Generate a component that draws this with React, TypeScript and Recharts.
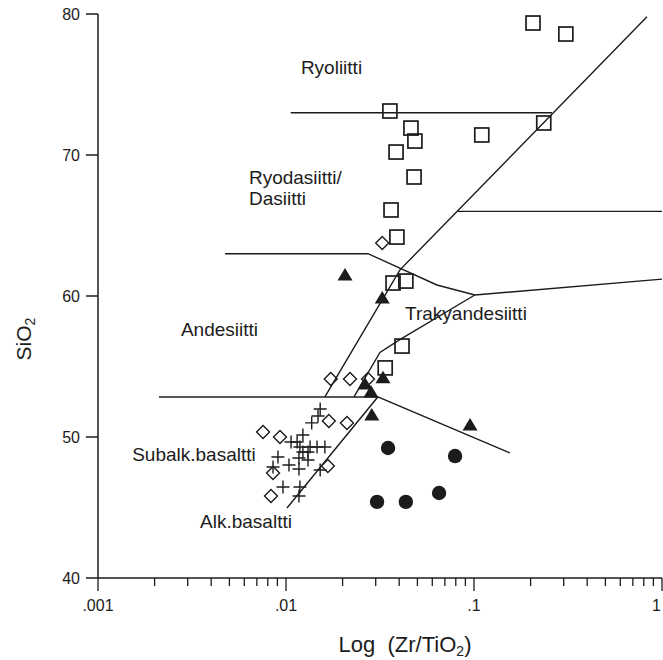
import { ScatterChart, Scatter, XAxis, YAxis } from "recharts";

const INK = "#1c1c1c";
const FONT = "'Liberation Sans', Arial, sans-serif";

// log axis ticks (minor + major)
const X_TICKS = [
  0.001, 0.002, 0.003, 0.004, 0.005, 0.006, 0.007, 0.008, 0.009,
  0.01, 0.02, 0.03, 0.04, 0.05, 0.06, 0.07, 0.08, 0.09,
  0.1, 0.2, 0.3, 0.4, 0.5, 0.6, 0.7, 0.8, 0.9, 1,
];
const X_MAJOR = [0.001, 0.01, 0.1, 1];
const X_MAJOR_LABELS = [".001", ".01", ".1", "1"];
const Y_TICKS = [40, 50, 60, 70, 80];

// field boundaries (Zr/TiO2, SiO2)
const rhyoliteLine = [{ x: 0.0106, y: 73 }, { x: 0.26, y: 73 }];
const steepLine = [{ x: 0.832, y: 79.8 }, { x: 0.0403, y: 61.84 }, { x: 0.0161, y: 52.84 }];
const andesiteTop = [
  { x: 0.00474, y: 63 },
  { x: 0.0273, y: 63 },
  { x: 0.0635, y: 60.78 },
  { x: 0.101, y: 60.07 },
  { x: 1, y: 61.2 },
];
const comenditeLine = [{ x: 0.0822, y: 66 }, { x: 1, y: 66 }];
const trachyLower = [
  { x: 0.101, y: 60.07 },
  { x: 0.0403, y: 56.9 },
  { x: 0.0316, y: 56.0 },
  { x: 0.023, y: 52.84 },
];
const basaltTop = [{ x: 0.00211, y: 52.84 }, { x: 0.0308, y: 52.84 }];
const alkLine = [{ x: 0.01012, y: 44.96 }, { x: 0.0308, y: 52.84 }, { x: 0.155, y: 48.87 }];

// samples
const squares = [
  { x: 0.206, y: 79.36 }, { x: 0.308, y: 78.58 }, { x: 0.0357, y: 73.12 },
  { x: 0.0462, y: 71.91 }, { x: 0.0485, y: 70.99 }, { x: 0.0385, y: 70.21 },
  { x: 0.11, y: 71.42 }, { x: 0.235, y: 72.27 }, { x: 0.048, y: 68.44 },
  { x: 0.0362, y: 66.1 }, { x: 0.0389, y: 64.18 }, { x: 0.0371, y: 60.92 },
  { x: 0.0434, y: 61.06 }, { x: 0.0414, y: 56.45 }, { x: 0.0337, y: 54.9 },
];
const triangles = [
  { x: 0.0206, y: 61.49 }, { x: 0.0325, y: 59.86 }, { x: 0.0263, y: 53.76 },
  { x: 0.0328, y: 54.2 }, { x: 0.0283, y: 53.2 }, { x: 0.0286, y: 51.56 },
  { x: 0.0953, y: 50.85 },
];
const circles = [
  { x: 0.0349, y: 49.22 }, { x: 0.0793, y: 48.65 }, { x: 0.0305, y: 45.4 },
  { x: 0.0434, y: 45.4 }, { x: 0.0652, y: 46.03 },
];
const diamonds = [
  { x: 0.0325, y: 63.76 }, { x: 0.0173, y: 54.11 }, { x: 0.0219, y: 54.11 },
  { x: 0.0273, y: 54.11 }, { x: 0.0169, y: 51.13 }, { x: 0.0211, y: 51.0 },
  { x: 0.00755, y: 50.35 }, { x: 0.00929, y: 50.0 }, { x: 0.00853, y: 47.45 },
  { x: 0.00832, y: 45.82 }, { x: 0.0167, y: 47.94 },
];
const crosses = [
  { x: 0.0152, y: 51.99 }, { x: 0.0148, y: 51.49 }, { x: 0.0137, y: 51.0 },
  { x: 0.0123, y: 50.14 }, { x: 0.01146, y: 49.65 }, { x: 0.01064, y: 49.65 },
  { x: 0.01186, y: 49.29 }, { x: 0.01343, y: 49.29 }, { x: 0.01462, y: 49.29 },
  { x: 0.0161, y: 49.29 }, { x: 0.0123, y: 48.94 }, { x: 0.01309, y: 48.94 },
  { x: 0.01172, y: 48.51 }, { x: 0.01309, y: 48.37 }, { x: 0.00906, y: 48.58 },
  { x: 0.01037, y: 48.01 }, { x: 0.01172, y: 47.73 }, { x: 0.00853, y: 47.87 },
  { x: 0.0152, y: 47.66 }, { x: 0.00964, y: 46.45 }, { x: 0.01186, y: 46.45 },
  { x: 0.01172, y: 45.82 },
];

// field names, anchored at their left baseline
const fieldLabels = [
  { x: 0.012, y: 75.74, text: "Ryoliitti" },
  { x: 0.00635, y: 67.94, text: "Ryodasiitti/" },
  { x: 0.00635, y: 66.45, text: "Dasiitti" },
  { x: 0.00276, y: 57.16, text: "Andesiitti" },
  { x: 0.043, y: 58.3, text: "Trakyandesiitti" },
  { x: 0.00152, y: 48.3, text: "Subalk.basaltti" },
  { x: 0.00349, y: 43.55, text: "Alk.basaltti" },
];

const boundaries = [rhyoliteLine, steepLine, andesiteTop, comenditeLine, trachyLower, basaltTop, alkLine];

const Empty = () => <g />;

const Square = ({ cx, cy }: any) => (
  <rect x={cx - 7} y={cy - 7} width={14} height={14} fill="none" stroke={INK} strokeWidth={1.7} />
);
const Diamond = ({ cx, cy }: any) => (
  <path d={`M${cx},${cy - 6.5}L${cx + 6.5},${cy}L${cx},${cy + 6.5}L${cx - 6.5},${cy}Z`} fill="none" stroke={INK} strokeWidth={1.4} />
);
const Triangle = ({ cx, cy }: any) => (
  <path d={`M${cx},${cy - 7}L${cx + 7.5},${cy + 5.5}L${cx - 7.5},${cy + 5.5}Z`} fill={INK} />
);
const Dot = ({ cx, cy }: any) => <circle cx={cx} cy={cy} r={7.2} fill={INK} />;
const Plus = ({ cx, cy }: any) => (
  <path d={`M${cx - 6.5},${cy}H${cx + 6.5}M${cx},${cy - 6.5}V${cy + 6.5}`} stroke={INK} strokeWidth={1.4} />
);
const FieldLabel = ({ cx, cy, payload }: any) => (
  <text x={cx} y={cy} fontSize={19} fontFamily={FONT} fill={INK}>
    {payload.text}
  </text>
);

function XTick(props: any) {
  const { x, y, payload } = props;
  const i = X_MAJOR.findIndex((v) => Math.abs(v - payload.value) < 1e-9);
  const major = i >= 0;
  const last = i === X_MAJOR.length - 1;
  return (
    <g>
      <line x1={x} x2={x} y1={y} y2={y + (major ? 13 : 8)} stroke={INK} strokeWidth={1.3} />
      {major && (
        <text x={last ? x - 1 : x} y={y + 33} textAnchor={last ? "end" : "middle"} fontSize={16} fontFamily={FONT} fill={INK}>
          {X_MAJOR_LABELS[i]}
        </text>
      )}
    </g>
  );
}

const XTitle = () => (
  <text x={405} y={652} textAnchor="middle" fontSize={22} fontFamily={FONT} fill={INK}>
    Log{"\u00a0\u00a0"}(Zr/TiO
    <tspan fontSize={14} dy={4}>2</tspan>
    <tspan dy={-4}>)</tspan>
  </text>
);

const YTitle = () => (
  <text x={31} y={339} transform="rotate(-90, 31, 339)" textAnchor="middle" fontSize={21} fontFamily={FONT} fill={INK}>
    SiO
    <tspan fontSize={14} dy={4}>2</tspan>
  </text>
);

export default function App() {
  return (
    <div style={{ position: "absolute", left: 0, top: 0, width: 663, height: 660, background: "#fff" }}>
      <ScatterChart width={663} height={660} margin={{ top: 14, right: 1, bottom: 0, left: 0 }}>
        <XAxis
          dataKey="x"
          type="number"
          scale="log"
          domain={[0.001, 1]}
          allowDataOverflow
          ticks={X_TICKS}
          interval={0}
          tick={<XTick />}
          tickLine={false}
          tickSize={0}
          tickMargin={0}
          height={82}
          axisLine={{ stroke: INK, strokeWidth: 1.5 }}
          label={{ content: XTitle }}
        />
        <YAxis
          dataKey="y"
          type="number"
          domain={[40, 80]}
          allowDataOverflow
          ticks={Y_TICKS}
          interval={0}
          width={98}
          tickSize={12}
          tickMargin={6}
          tick={{ fontSize: 16, fill: INK, fontFamily: FONT }}
          tickLine={{ stroke: INK, strokeWidth: 1.5 }}
          axisLine={{ stroke: INK, strokeWidth: 1.5 }}
          label={{ content: YTitle }}
        />
        {boundaries.map((seg, i) => (
          <Scatter
            key={`b${i}`}
            data={seg}
            line={{ stroke: INK, strokeWidth: 1.4 }}
            shape={Empty}
            isAnimationActive={false}
          />
        ))}
        <Scatter data={fieldLabels} shape={FieldLabel} isAnimationActive={false} />
        <Scatter data={squares} shape={Square} isAnimationActive={false} />
        <Scatter data={diamonds} shape={Diamond} isAnimationActive={false} />
        <Scatter data={crosses} shape={Plus} isAnimationActive={false} />
        <Scatter data={triangles} shape={Triangle} isAnimationActive={false} />
        <Scatter data={circles} shape={Dot} isAnimationActive={false} />
      </ScatterChart>
    </div>
  );
}
